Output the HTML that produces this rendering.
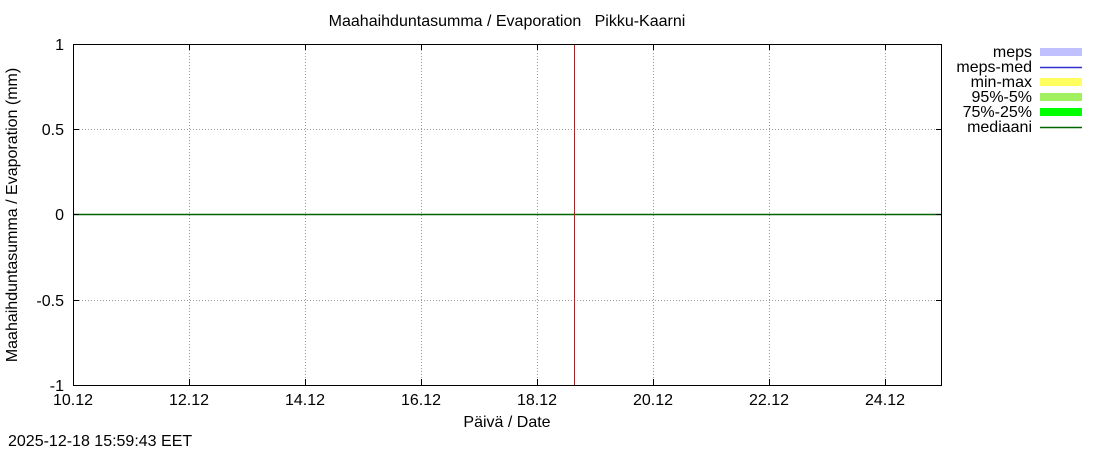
<!DOCTYPE html>
<html><head><meta charset="utf-8"><style>
body{margin:0;background:#fff;}
svg{display:block;font-family:"Liberation Sans",sans-serif;}
text{white-space:pre;}
</style></head><body>
<svg width="1100" height="450" xmlns="http://www.w3.org/2000/svg">
<rect width="1100" height="450" fill="#fff"/>
<text x="507" y="26" font-size="16" text-anchor="middle" xml:space="preserve">Maahaihduntasumma / Evaporation   Pikku-Kaarni</text>
<g stroke="#999" stroke-width="1" stroke-dasharray="1,2">
<line x1="189.5" y1="44" x2="189.5" y2="385"/>
<line x1="305.5" y1="44" x2="305.5" y2="385"/>
<line x1="421.5" y1="44" x2="421.5" y2="385"/>
<line x1="537.5" y1="44" x2="537.5" y2="385"/>
<line x1="653.5" y1="44" x2="653.5" y2="385"/>
<line x1="769.5" y1="44" x2="769.5" y2="385"/>
<line x1="885.5" y1="44" x2="885.5" y2="385"/>
<line x1="73" y1="129.5" x2="942" y2="129.5"/>
<line x1="73" y1="300.5" x2="942" y2="300.5"/>
</g>
<line x1="73" y1="214.5" x2="942" y2="214.5" stroke="#006400" stroke-width="1.5"/>
<line x1="574.5" y1="44" x2="574.5" y2="385" stroke="#f00" stroke-width="1"/>
<rect x="73.5" y="44.5" width="868" height="341" fill="none" stroke="#000" stroke-width="1"/>
<g stroke="#000">
<line x1="73" y1="129.5" x2="79" y2="129.5"/><line x1="942" y1="129.5" x2="936" y2="129.5"/>
<line x1="73" y1="214.5" x2="79" y2="214.5"/><line x1="942" y1="214.5" x2="936" y2="214.5"/>
<line x1="73" y1="300.5" x2="79" y2="300.5"/><line x1="942" y1="300.5" x2="936" y2="300.5"/>
<line x1="189.5" y1="385" x2="189.5" y2="379"/><line x1="305.5" y1="385" x2="305.5" y2="379"/>
<line x1="421.5" y1="385" x2="421.5" y2="379"/><line x1="537.5" y1="385" x2="537.5" y2="379"/>
<line x1="653.5" y1="385" x2="653.5" y2="379"/><line x1="769.5" y1="385" x2="769.5" y2="379"/>
<line x1="885.5" y1="385" x2="885.5" y2="379"/>
<line x1="189.5" y1="44" x2="189.5" y2="50"/><line x1="305.5" y1="44" x2="305.5" y2="50"/>
<line x1="421.5" y1="44" x2="421.5" y2="50"/><line x1="537.5" y1="44" x2="537.5" y2="50"/>
<line x1="653.5" y1="44" x2="653.5" y2="50"/><line x1="769.5" y1="44" x2="769.5" y2="50"/>
<line x1="885.5" y1="44" x2="885.5" y2="50"/>
</g>
<g font-size="16" text-anchor="end">
<text x="64" y="50">1</text><text x="64" y="135">0.5</text><text x="64" y="220">0</text>
<text x="64" y="306">-0.5</text><text x="64" y="391">-1</text>
</g>
<g font-size="16" text-anchor="middle">
<text x="73" y="405">10.12</text><text x="189" y="405">12.12</text><text x="305" y="405">14.12</text>
<text x="421" y="405">16.12</text><text x="537" y="405">18.12</text><text x="653" y="405">20.12</text>
<text x="769" y="405">22.12</text><text x="885" y="405">24.12</text>
<text x="507" y="427">Päivä / Date</text>
</g>
<text transform="translate(17,215) rotate(-90)" font-size="16" text-anchor="middle">Maahaihduntasumma / Evaporation (mm)</text>
<text x="8" y="446" font-size="16">2025-12-18 15:59:43 EET</text>
<g font-size="16" text-anchor="end">
<text x="1032" y="57">meps</text><text x="1032" y="72">meps-med</text><text x="1032" y="87">min-max</text>
<text x="1032" y="102">95%-5%</text><text x="1032" y="117">75%-25%</text><text x="1032" y="132">mediaani</text>
</g>
<rect x="1040" y="48" width="42" height="8" fill="#c0c0ff"/>
<line x1="1040" y1="67.5" x2="1082" y2="67.5" stroke="#3030d0" stroke-width="1.5"/>
<rect x="1040" y="78" width="42" height="8" fill="#ffff60"/>
<rect x="1040" y="93" width="42" height="8" fill="#a0f060"/>
<rect x="1040" y="108" width="42" height="8" fill="#00ff00"/>
<line x1="1040" y1="127.5" x2="1082" y2="127.5" stroke="#006400" stroke-width="1.5"/>
</svg>
</body></html>
